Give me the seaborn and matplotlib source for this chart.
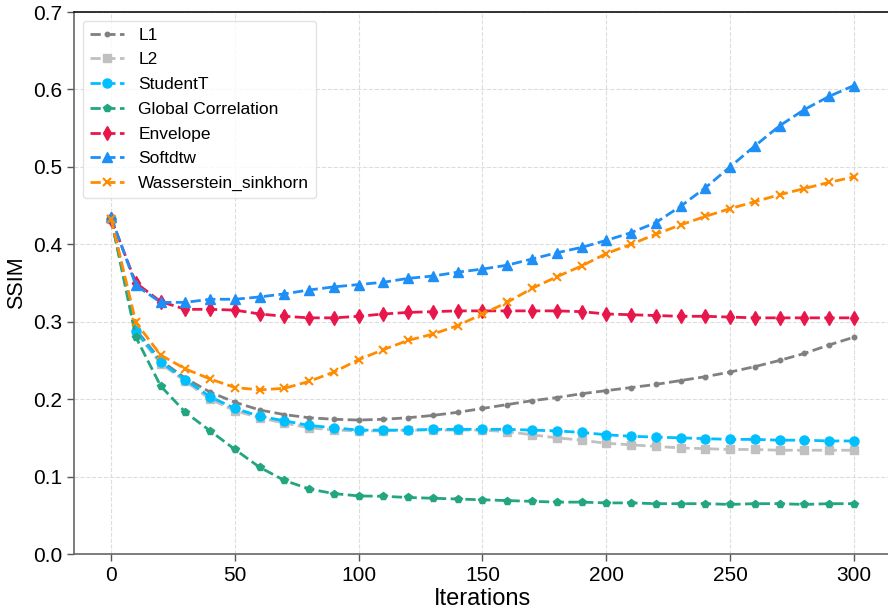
import numpy as np
import pandas as pd
import matplotlib
matplotlib.use("Agg")
import matplotlib.pyplot as plt
import seaborn as sns

iterations = list(range(0, 301, 10))

l1 = [0.433, 0.290, 0.250, 0.227, 0.209, 0.196, 0.186, 0.180, 0.176, 0.174, 0.173,
      0.174, 0.176, 0.179, 0.183, 0.188, 0.193, 0.198, 0.202, 0.207, 0.211,
      0.215, 0.219, 0.224, 0.229, 0.235, 0.242, 0.250, 0.259, 0.270, 0.280]
l2 = [0.433, 0.286, 0.246, 0.223, 0.200, 0.185, 0.176, 0.169, 0.163, 0.160, 0.159,
      0.159, 0.160, 0.160, 0.160, 0.160, 0.158, 0.154, 0.150, 0.147, 0.143,
      0.141, 0.139, 0.137, 0.136, 0.135, 0.135, 0.134, 0.134, 0.134, 0.134]
studentt = [0.433, 0.288, 0.248, 0.225, 0.203, 0.188, 0.178, 0.172, 0.166, 0.163, 0.160,
            0.160, 0.160, 0.161, 0.161, 0.161, 0.161, 0.160, 0.159, 0.157, 0.154,
            0.152, 0.151, 0.150, 0.149, 0.148, 0.148, 0.147, 0.147, 0.146, 0.146]
global_corr = [0.433, 0.280, 0.217, 0.183, 0.159, 0.135, 0.112, 0.095, 0.084, 0.078, 0.075,
               0.0745, 0.073, 0.072, 0.071, 0.070, 0.069, 0.068, 0.067, 0.067, 0.066,
               0.066, 0.065, 0.065, 0.065, 0.064, 0.065, 0.065, 0.064, 0.065, 0.065]
envelope = [0.433, 0.350, 0.326, 0.316, 0.316, 0.315, 0.310, 0.307, 0.305, 0.305, 0.307,
            0.310, 0.312, 0.313, 0.314, 0.314, 0.314, 0.314, 0.314, 0.313, 0.310,
            0.309, 0.308, 0.307, 0.307, 0.306, 0.305, 0.305, 0.305, 0.305, 0.305]
softdtw = [0.435, 0.347, 0.325, 0.325, 0.329, 0.329, 0.332, 0.336, 0.341, 0.345, 0.348,
           0.351, 0.356, 0.359, 0.364, 0.368, 0.373, 0.381, 0.389, 0.396, 0.405,
           0.415, 0.428, 0.449, 0.473, 0.500, 0.527, 0.553, 0.574, 0.591, 0.605]
wasserstein = [0.433, 0.299, 0.257, 0.239, 0.226, 0.215, 0.212, 0.214, 0.223, 0.235, 0.251,
               0.264, 0.276, 0.284, 0.295, 0.310, 0.325, 0.343, 0.358, 0.372, 0.388,
               0.400, 0.413, 0.425, 0.436, 0.446, 0.455, 0.464, 0.472, 0.480, 0.487]

names = ["L1", "L2", "StudentT", "Global Correlation", "Envelope", "Softdtw", "Wasserstein_sinkhorn"]
series = [l1, l2, studentt, global_corr, envelope, softdtw, wasserstein]
colors = ["#808080", "#c0c0c0", "#00bfff", "#23a67f", "#e8174b", "#1e8ff7", "#ff8c00"]
markers = [".", "s", "o", "p", "d", "^", "x"]
msizes = [6.5, 6, 6.5, 6, 7.5, 7, 6]

sns.set_style("white")
plt.rcParams["font.family"] = ["Liberation Sans", "DejaVu Sans"]
plt.rcParams["text.color"] = "black"
plt.rcParams["axes.labelcolor"] = "black"

fig = plt.figure(figsize=(8.88, 6.14), dpi=100)
ax = fig.add_axes([74 / 888, 1 - 554 / 614, (891 - 74) / 888, (554 - 12) / 614])

for name, vals, c, m, ms in zip(names, series, colors, markers, msizes):
    df = pd.DataFrame({"Iterations": iterations, "SSIM": vals})
    sns.lineplot(data=df, x="Iterations", y="SSIM", ax=ax, color=c, marker=m,
                 markersize=ms, linestyle="--", linewidth=2, label=name,
                 markeredgecolor=c, markeredgewidth=1 if m != "x" else 1.5)

ax.set_xlim(-15, 315)
ax.set_ylim(0, 0.7)
ax.set_xticks([0, 50, 100, 150, 200, 250, 300])
ax.set_yticks(np.arange(0, 0.71, 0.1))
ax.set_yticklabels([f"{v:.1f}" for v in np.arange(0, 0.71, 0.1)])
ax.tick_params(axis="both", labelsize=15, length=5, width=1, color="#555555", direction="out",
               bottom=True, left=True, labelcolor="black")
ax.set_xlabel("Iterations", fontsize=17, labelpad=2)
ax.set_ylabel("SSIM", fontsize=15.5)
ax.grid(True, linestyle="--", color="#dddddd", linewidth=0.8)
ax.set_axisbelow(True)
for s in ["left", "bottom"]:
    ax.spines[s].set_color("#666666")
    ax.spines[s].set_linewidth(1.2)
ax.spines["top"].set_color("#111111")
ax.spines["top"].set_linewidth(1.2)
ax.spines["right"].set_visible(False)

leg = ax.legend(loc="upper left", fontsize=12.5, frameon=True, borderpad=0.4,
                labelspacing=0.55, handlelength=2.0, handletextpad=0.8,
                borderaxespad=0.5)
leg.get_frame().set_edgecolor("#dddddd")

fig.savefig("out.png", dpi=100)
